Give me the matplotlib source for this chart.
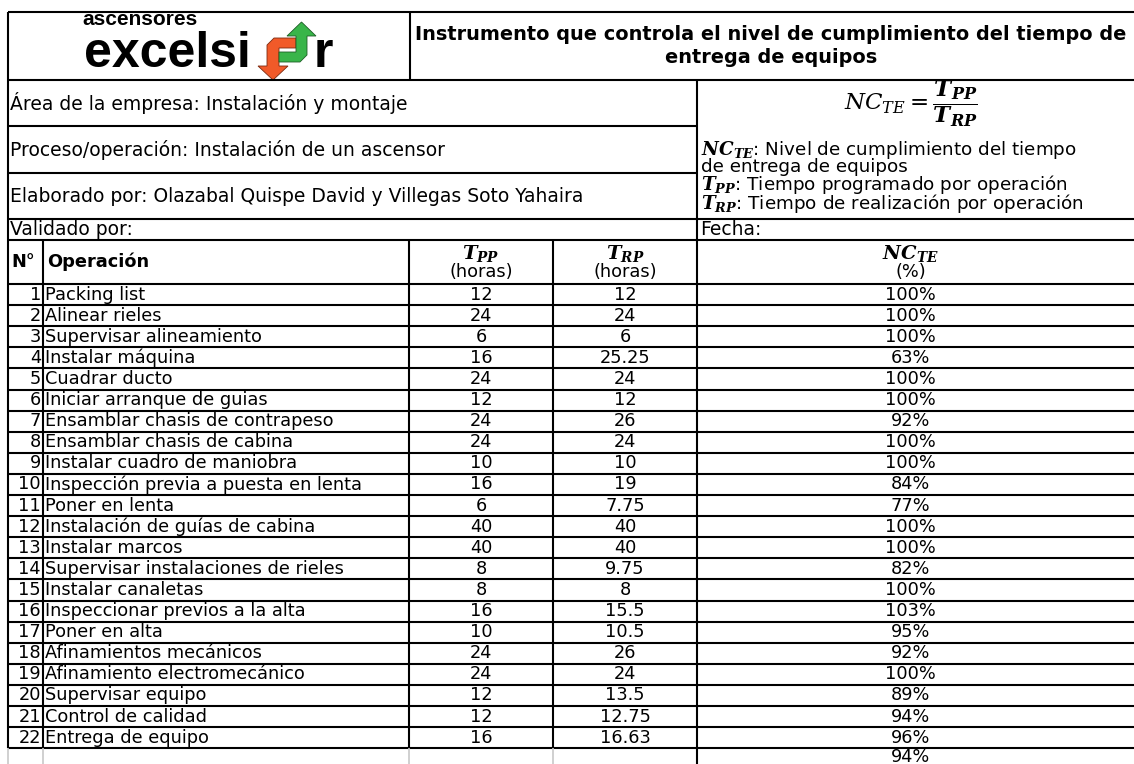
import matplotlib
matplotlib.use("Agg")
import matplotlib.pyplot as plt
from matplotlib.patches import Polygon

# ---------------- data ----------------
operaciones = ["Packing list", "Alinear rieles", "Supervisar alineamiento", "Instalar máquina",
               "Cuadrar ducto", "Iniciar arranque de guias", "Ensamblar chasis de contrapeso",
               "Ensamblar chasis de cabina", "Instalar cuadro de maniobra",
               "Inspección previa a puesta en lenta", "Poner en lenta",
               "Instalación de guías de cabina", "Instalar marcos",
               "Supervisar instalaciones de rieles", "Instalar canaletas",
               "Inspeccionar previos a la alta", "Poner en alta", "Afinamientos mecánicos",
               "Afinamiento electromecánico", "Supervisar equipo", "Control de calidad",
               "Entrega de equipo"]
t_pp = [12, 24, 6, 16, 24, 12, 24, 24, 10, 16, 6, 40, 40, 8, 8, 16, 10, 24, 24, 12, 12, 16]
t_rp = [12, 24, 6, 25.25, 24, 12, 26, 24, 10, 19, 7.75, 40, 40, 9.75, 8, 15.5, 10.5, 26, 24,
        13.5, 12.75, 16.63]
nc_te = [100, 100, 100, 63, 100, 100, 92, 100, 100, 84, 77, 100, 100, 82, 100, 103, 95, 92,
         100, 89, 94, 96]
nc_total = 94

titulo = "Instrumento que controla el nivel de cumplimiento del tiempo de\nentrega de equipos"
info_izq = ["Área de la empresa: Instalación y montaje",
            "Proceso/operación: Instalación de un ascensor",
            "Elaborado por: Olazabal Quispe David y Villegas Soto Yahaira"]
leyenda = (r"$\mathbf{NC_{TE}}$: Nivel de cumplimiento del tiempo" "\n"
           "de entrega de equipos" "\n"
           r"$\mathbf{T_{PP}}$: Tiempo programado por operación" "\n"
           r"$\mathbf{T_{RP}}$: Tiempo de realización por operación")

# ---------------- style ----------------
plt.rcParams['font.family'] = ['DejaVu Sans']
plt.rcParams['mathtext.fontset'] = 'custom'
plt.rcParams['mathtext.rm'] = 'DejaVu Serif'
plt.rcParams['mathtext.it'] = 'DejaVu Serif:italic'
plt.rcParams['mathtext.bf'] = 'DejaVu Serif:italic:bold'

W, H = 1134, 764
fig = plt.figure(figsize=(W / 100, H / 100), dpi=100)
ax = fig.add_axes([0, 0, 1, 1])
ax.set_xlim(0, W)
ax.set_ylim(H, 0)
ax.axis('off')

FS = 12.8
FSI = 13.5
LW = 1.5
K = 'black'

# column boundaries
xL, xN, xOp, xPP, xRP, xR = 8, 43, 409, 553, 697, W
yTop, yHead, yA, yB, yC, yV = 12, 80, 126, 173, 219, 240
y0 = 284
rh = 21.1
n = len(operaciones)
yEnd = y0 + n * rh

def hline(y, x1, x2, color=K, lw=LW):
    ax.plot([x1, x2], [y, y], color=color, lw=lw, solid_capstyle='butt')

def vline(x, y1, y2, color=K, lw=LW):
    ax.plot([x, x], [y1, y2], color=color, lw=lw, solid_capstyle='butt')

# ---- frame lines ----
hline(yTop, xL, xR)
hline(yHead, xL, xR)
hline(yA, xL, xRP)
hline(yB, xL, xRP)
hline(yC, xL, xR)
hline(yV, xL, xR)
hline(y0, xL, xR)
for i in range(1, n + 1):
    hline(y0 + i * rh, xL, xR)

vline(xL, yTop, yEnd)
vline(410, yTop, yHead)
vline(xRP, yHead, H)
for x in (xN, xOp, xPP):
    vline(x, yV, yEnd)
for x in (xL, xN, xOp, xPP):
    vline(x, yEnd, H, color='#c8c8c8', lw=1.2)

# ---- logo ----
ax.text(82, 25, "ascensores", ha='left', va='baseline', fontsize=15, fontweight='bold',
        family='Liberation Sans')
ax.text(84, 67, "excelsi", ha='left', va='baseline', fontsize=36, fontweight='bold',
        family='Liberation Sans')
ax.text(314, 67, "r", ha='left', va='baseline', fontsize=36, fontweight='bold',
        family='Liberation Sans')
orange = '#f15a29'
green = '#39b54a'
ax.add_patch(Polygon([(267, 52), (267, 45), (274, 38), (296, 38), (296, 48), (279, 48),
                      (279, 66), (288, 66), (273, 80), (258, 66), (267, 66)],
                     closed=True, facecolor=orange, edgecolor='#7a2a10', lw=0.6))
ax.add_patch(Polygon([(307, 48), (307, 55), (300, 62), (279, 62), (279, 52), (296, 52),
                      (296, 36), (287, 36), (301.5, 22), (316, 36), (307, 36)],
                     closed=True, facecolor=green, edgecolor='#1d5e26', lw=0.6))

# ---- title ----
ax.text(771, 46, titulo, ha='center', va='center', fontsize=13.9, fontweight='bold',
        linespacing=1.25)

# ---- left info ----
for txt, yc in zip(info_izq, [(yHead + yA) / 2, (yA + yB) / 2, (yB + yC) / 2]):
    ax.text(10, yc, txt, ha='left', va='center', fontsize=FSI)
ax.text(10, (yC + yV) / 2, "Validado por:", ha='left', va='center', fontsize=FSI)
ax.text(xRP + 3, (yC + yV) / 2, "Fecha:", ha='left', va='center', fontsize=FSI)

# ---- formula block ----
xc_nc = (xRP + 1124) / 2
ax.text(xc_nc, 104, r"$NC_{TE}=\dfrac{\mathbf{T_{PP}}}{\mathbf{T_{RP}}}$", ha='center',
        va='center', fontsize=16.5)
ax.text(xRP + 4, 177, leyenda, ha='left', va='center', fontsize=13.2, linespacing=0.8)

# ---- column header ----
yhc = (yV + y0) / 2
ax.text(11, yhc, "N°", ha='left', va='center', fontsize=FS, fontweight='bold')
ax.text(xN + 4, yhc, "Operación", ha='left', va='center', fontsize=FS, fontweight='bold')
xc_pp = (xOp + xPP) / 2
xc_rp = (xPP + xRP) / 2
for xc, lab in ((xc_pp, r"$\mathbf{T_{PP}}$"), (xc_rp, r"$\mathbf{T_{RP}}$")):
    ax.text(xc, 254, lab, ha='center', va='center', fontsize=14)
    ax.text(xc, 272, "(horas)", ha='center', va='center', fontsize=FS)
ax.text(xc_nc, 254, r"$\mathbf{NC_{TE}}$", ha='center', va='center', fontsize=14)
ax.text(xc_nc, 272, "(%)", ha='center', va='center', fontsize=FS)

# ---- data rows ----
for i in range(n):
    yc = y0 + i * rh + rh / 2
    ax.text(xN - 2, yc, str(i + 1), ha='right', va='center', fontsize=FS)
    ax.text(xN + 2, yc, operaciones[i], ha='left', va='center', fontsize=FS)
    ax.text(xc_pp, yc, f"{t_pp[i]:g}", ha='center', va='center', fontsize=FS)
    ax.text(xc_rp, yc, f"{t_rp[i]:g}", ha='center', va='center', fontsize=FS)
    ax.text(xc_nc, yc, f"{nc_te[i]}%", ha='center', va='center', fontsize=FS)
ax.text(xc_nc, yEnd + 9, f"{nc_total}%", ha='center', va='center', fontsize=FS)

fig.savefig("out.png", dpi=100)
